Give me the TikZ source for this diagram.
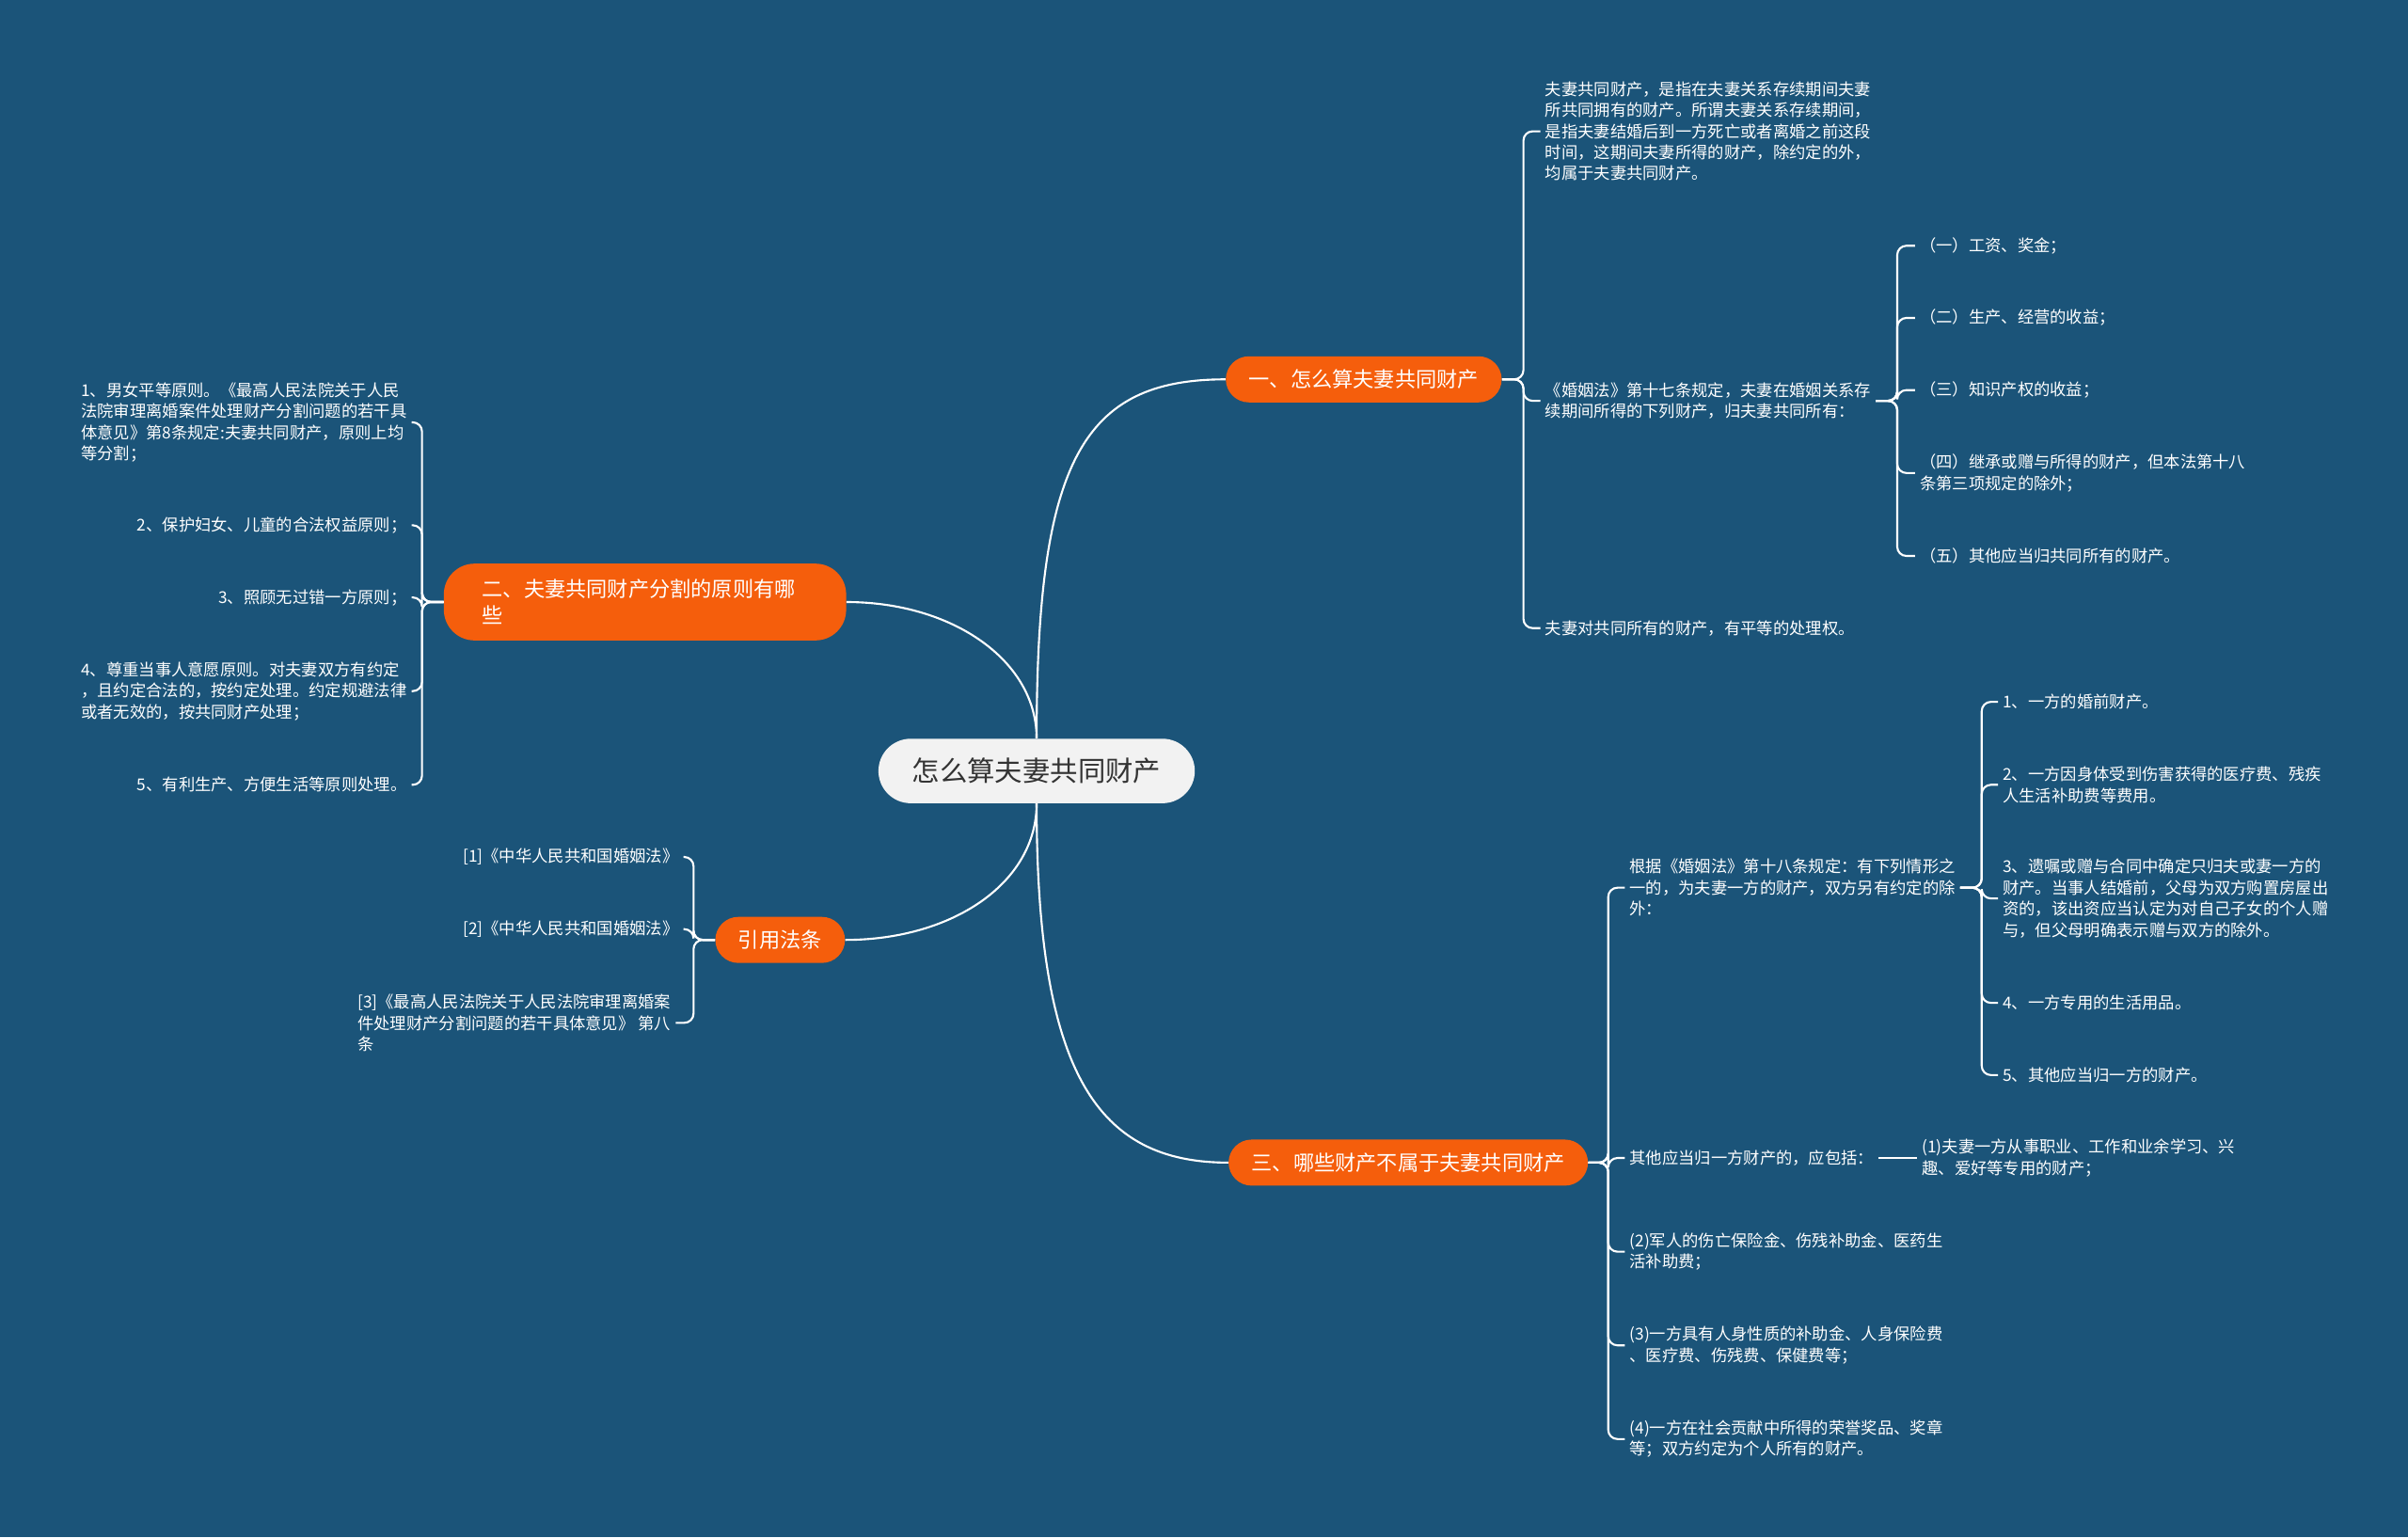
\documentclass[tikz,border=0pt]{standalone}
\usepackage{fontspec}
\setmainfont{Noto Sans CJK SC}
\usepackage{xcolor}
\usepackage{tikz}
\usetikzlibrary{positioning}
\definecolor{MapBlue}{HTML}{1B5479}
\definecolor{TopicOrange}{HTML}{F55E0C}
\definecolor{RootGray}{HTML}{F2F2F2}
\definecolor{RootInk}{HTML}{333333}

\begin{document}
\begin{tikzpicture}[
  x=1pt, y=-1pt,
  root/.style={fill=RootGray, text=RootInk, rounded corners=21pt, minimum width=206pt, minimum height=42pt, inner sep=0pt, font=\fontsize{18pt}{22pt}\selectfont},
  branch/.style={fill=TopicOrange, text=white, rounded corners=15pt, minimum height=30pt, inner xsep=15pt, inner ysep=0pt, font=\fontsize{13.6pt}{17pt}\selectfont},
  leaf/.style={text=white, align=left, inner sep=3pt, font=\fontsize{10.6pt}{13.7pt}\selectfont},
  link/.style={draw=white, line width=1.3pt},
  fork/.style={link, rounded corners=6pt}
]
\fill[MapBlue] (0,0) rectangle (1568,1001);

\node[root] (root) at (675,502) {怎么算夫妻共同财产};
\node[branch] (b1) at (888,247) {一、怎么算夫妻共同财产};
\node[branch, text width=212pt, align=left, inner xsep=25pt, minimum height=50pt, rounded corners=20pt, font=\fontsize{13.6pt}{17pt}\selectfont] (b2) at (420,392) {二、夫妻共同财产分割的原则有哪\\些};
\node[branch] (b3) at (508,612) {引用法条};
\node[branch] (b4) at (917,757) {三、哪些财产不属于夫妻共同财产};

\draw[link] (root.north) .. controls (675,300) and (705,247) .. (b1.west);
\draw[link] (root.north) .. controls (675,430) and (620,392) .. (b2.east);
\draw[link] (root.south) .. controls (675,575) and (620,612) .. (b3.east);
\draw[link] (root.south) .. controls (675,700) and (715,757) .. (b4.west);

% 一、怎么算夫妻共同财产
\node[leaf, anchor=west] (l11) at (1003,85.5) {夫妻共同财产，是指在夫妻关系存续期间夫妻\\所共同拥有的财产。所谓夫妻关系存续期间，\\是指夫妻结婚后到一方死亡或者离婚之前这段\\时间，这期间夫妻所得的财产，除约定的外，\\均属于夫妻共同财产。};
\node[leaf, anchor=west] (l12) at (1003,261) {《婚姻法》第十七条规定，夫妻在婚姻关系存\\续期间所得的下列财产，归夫妻共同所有：};
\node[leaf, anchor=west] (l13) at (1003,409) {夫妻对共同所有的财产，有平等的处理权。};
\draw[fork] (b1.east) -- ++(14,0) |- (l11.west);
\draw[fork] (b1.east) -- ++(14,0) |- (l12.west);
\draw[fork] (b1.east) -- ++(14,0) |- (l13.west);

\node[leaf, anchor=west] (s1) at (1247,160) {（一）工资、奖金；};
\node[leaf, anchor=west] (s2) at (1247,207) {（二）生产、经营的收益；};
\node[leaf, anchor=west] (s3) at (1247,254) {（三）知识产权的收益；};
\node[leaf, anchor=west] (s4) at (1247,308) {（四）继承或赠与所得的财产，但本法第十八\\条第三项规定的除外；};
\node[leaf, anchor=west] (s5) at (1247,362) {（五）其他应当归共同所有的财产。};
\draw[fork] (l12.east) -- ++(14,0) |- (s1.west);
\draw[fork] (l12.east) -- ++(14,0) |- (s2.west);
\draw[fork] (l12.east) -- ++(14,0) |- (s3.west);
\draw[fork] (l12.east) -- ++(14,0) |- (s4.west);
\draw[fork] (l12.east) -- ++(14,0) |- (s5.west);

% 二、分割的原则
\node[leaf, anchor=east] (l21) at (268,275) {1、男女平等原则。《最高人民法院关于人民\\法院审理离婚案件处理财产分割问题的若干具\\体意见》第8条规定:夫妻共同财产，原则上均\\等分割；};
\node[leaf, anchor=east] (l22) at (268,342) {2、保护妇女、儿童的合法权益原则；};
\node[leaf, anchor=east] (l23) at (268,389) {3、照顾无过错一方原则；};
\node[leaf, anchor=east] (l24) at (268,450) {4、尊重当事人意愿原则。对夫妻双方有约定\\，且约定合法的，按约定处理。约定规避法律\\或者无效的，按共同财产处理；};
\node[leaf, anchor=east] (l25) at (268,511) {5、有利生产、方便生活等原则处理。};
\draw[fork] (b2.west) -- ++(-14,0) |- (l21.east);
\draw[fork] (b2.west) -- ++(-14,0) |- (l22.east);
\draw[fork] (b2.west) -- ++(-14,0) |- (l23.east);
\draw[fork] (b2.west) -- ++(-14,0) |- (l24.east);
\draw[fork] (b2.west) -- ++(-14,0) |- (l25.east);

% 引用法条
\node[leaf, anchor=east] (c1) at (445,558) {[1]《中华人民共和国婚姻法》};
\node[leaf, anchor=east] (c2) at (445,605) {[2]《中华人民共和国婚姻法》};
\node[leaf, anchor=east] (c3) at (440,666) {[3]《最高人民法院关于人民法院审理离婚案\\件处理财产分割问题的若干具体意见》 第八\\条};
\draw[fork] (b3.west) -- ++(-14,0) |- (c1.east);
\draw[fork] (b3.west) -- ++(-14,0) |- (c2.east);
\draw[fork] (b3.west) -- ++(-14,0) |- (c3.east);

% 三、不属于共同财产
\node[leaf, anchor=west] (l41) at (1058,578) {根据《婚姻法》第十八条规定：有下列情形之\\一的，为夫妻一方的财产，双方另有约定的除\\外：};
\node[leaf, anchor=west] (l42) at (1058,754) {其他应当归一方财产的，应包括：};
\node[leaf, anchor=west] (l43) at (1058,815) {(2)军人的伤亡保险金、伤残补助金、医药生\\活补助费；};
\node[leaf, anchor=west] (l44) at (1058,876) {(3)一方具有人身性质的补助金、人身保险费\\、医疗费、伤残费、保健费等；};
\node[leaf, anchor=west] (l45) at (1058,937) {(4)一方在社会贡献中所得的荣誉奖品、奖章\\等；双方约定为个人所有的财产。};
\draw[fork] (b4.east) -- ++(13,0) |- (l41.west);
\draw[fork] (b4.east) -- ++(13,0) |- (l42.west);
\draw[fork] (b4.east) -- ++(13,0) |- (l43.west);
\draw[fork] (b4.east) -- ++(13,0) |- (l44.west);
\draw[fork] (b4.east) -- ++(13,0) |- (l45.west);

\node[leaf, anchor=west] (t1) at (1301,457) {1、一方的婚前财产。};
\node[leaf, anchor=west] (t2) at (1301,511) {2、一方因身体受到伤害获得的医疗费、残疾\\人生活补助费等费用。};
\node[leaf, anchor=west] (t3) at (1301,585) {3、遗嘱或赠与合同中确定只归夫或妻一方的\\财产。当事人结婚前，父母为双方购置房屋出\\资的，该出资应当认定为对自己子女的个人赠\\与，但父母明确表示赠与双方的除外。};
\node[leaf, anchor=west] (t4) at (1301,653) {4、一方专用的生活用品。};
\node[leaf, anchor=west] (t5) at (1301,700) {5、其他应当归一方的财产。};
\draw[fork] (l41.east) -- ++(14,0) |- (t1.west);
\draw[fork] (l41.east) -- ++(14,0) |- (t2.west);
\draw[fork] (l41.east) -- ++(14,0) |- (t3.west);
\draw[fork] (l41.east) -- ++(14,0) |- (t4.west);
\draw[fork] (l41.east) -- ++(14,0) |- (t5.west);

\node[leaf, right=25pt of l42] (l421) {(1)夫妻一方从事职业、工作和业余学习、兴\\趣、爱好等专用的财产；};
\draw[link] (l42.east) -- (l421.west);
\end{tikzpicture}
\end{document}
